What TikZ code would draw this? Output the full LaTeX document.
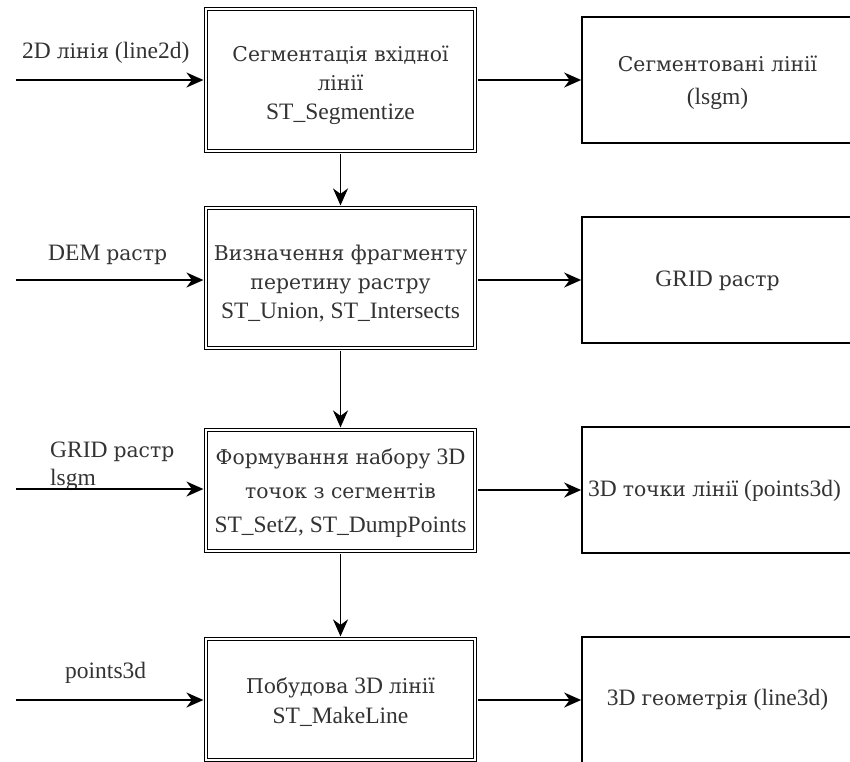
\documentclass[tikz,border=0pt]{standalone}
\usepackage{fontspec}
\setmainfont{Liberation Serif}
% Cyrillic words are set in a serif face with proper Cyrillic glyphs
\newfontfamily\cyr[Scale=0.865]{DejaVu Serif}
\usetikzlibrary{arrows.meta}
\begin{document}
\begin{tikzpicture}[x=1pt,y=-1pt,
  txt/.style={text=black!80, font=\fontsize{23.5}{29}\selectfont},
  boxtext/.style={txt, align=center, inner sep=0pt},
  procbox/.style={draw, line width=1.2pt, double, double distance=2.2pt, fill=white,
    inner sep=0pt, minimum width=269pt},
  databox/.style={draw, line width=1.7pt, fill=white, inner sep=0pt,
    minimum width=271pt, minimum height=126pt},
  flow/.style={line width=1.7pt, -{Stealth[length=17pt,width=15pt,inset=5.5pt]}},
  lbl/.style={txt, anchor=base west, inner sep=0pt}]
\useasboundingbox (0,0) rectangle (850,761);
\clip (0,0) rectangle (850,761);

% processing steps
\node[procbox, minimum height=142pt] (seg) at (340.5,80) {};
\node[procbox, minimum height=140pt] (frag) at (340.5,278) {};
\node[procbox, minimum height=121pt] (pts) at (340.5,490.5) {};
\node[procbox, minimum height=121pt] (mk) at (340.5,699.5) {};
\node[boxtext] (segt) at ([yshift=-5pt]seg.center)
  {{\cyr Сегментація вхідної}\\{\cyr лінії}\\ST\_Segmentize};
\node[boxtext] (fragt) at ([yshift=-5.5pt]frag.center)
  {{\cyr Визначення фрагменту}\\{\cyr перетину растру}\\ST\_Union, ST\_Intersects};
\node[boxtext, font=\fontsize{23.5}{34}\selectfont] (ptst) at ([yshift=-2.5pt]pts.center)
  {{\cyr Формування набору} 3D\\{\cyr точок з сегментів}\\ST\_SetZ, ST\_DumpPoints};
\node[boxtext, font=\fontsize{23.5}{30}\selectfont] (mkt) at ([yshift=-2.5pt]mk.center)
  {{\cyr Побудова} 3D {\cyr лінії}\\ST\_MakeLine};

% results
\node[databox] (lsgm) at (717.5,80) {};
\node[databox] (grid) at (717.5,280) {};
\node[databox] (p3d) at (717.5,490) {};
\node[databox] (l3d) at (717.5,700) {};
\node[boxtext, font=\fontsize{23.5}{33}\selectfont] (lsgmt) at ([yshift=-3pt]lsgm.center)
  {{\cyr Сегментовані лінії}\\(lsgm)};
\node[boxtext] (gridt) at ([yshift=-1pt]grid.center) {GRID {\cyr растр}};
\node[boxtext] (p3dt) at ([xshift=-3pt,yshift=-1pt]p3d.center) {3D {\cyr точки лінії} (points3d)};
\node[boxtext] (l3dt) at (l3d.center) {3D {\cyr геометрія} (line3d)};

% inputs
\coordinate (i1) at (16,80);
\coordinate (i2) at (16,280);
\coordinate (i3) at (16,489);
\coordinate (i4) at (16,700);
\node[lbl] (t1) at (22,58) {2D {\cyr лінія} (line2d)};
\node[lbl] (t2) at (48,260) {DEM {\cyr растр}};
\node[lbl] (t3) at (50,457) {GRID {\cyr растр}};
\node[lbl] (t3b) at (50,485) {lsgm};
\node[lbl] (t4) at (65,678) {points3d};

\draw[flow, shorten >=2pt] (i1) -- (i1 -| seg.west);
\draw[flow, shorten >=2pt] (i2) -- (i2 -| frag.west);
\draw[flow, shorten >=2pt] (i3) -- (i3 -| pts.west);
\draw[flow, shorten >=2pt] (i4) -- (i4 -| mk.west);

% outputs
\draw[flow, shorten <=2pt] (seg.east |- lsgm.west) -- (lsgm.west);
\draw[flow, shorten <=2pt] (frag.east |- grid.west) -- (grid.west);
\draw[flow, shorten <=2pt] (pts.east |- p3d.west) -- (p3d.west);
\draw[flow, shorten <=2pt] (mk.east |- l3d.west) -- (l3d.west);

% sequence
\draw[flow, shorten <=2pt, shorten >=2pt] (seg.south) -- (frag.north);
\draw[flow, shorten <=2pt, shorten >=2pt] (frag.south) -- (pts.north);
\draw[flow, shorten <=2pt, shorten >=2pt] (pts.south) -- (mk.north);
\end{tikzpicture}
\end{document}
